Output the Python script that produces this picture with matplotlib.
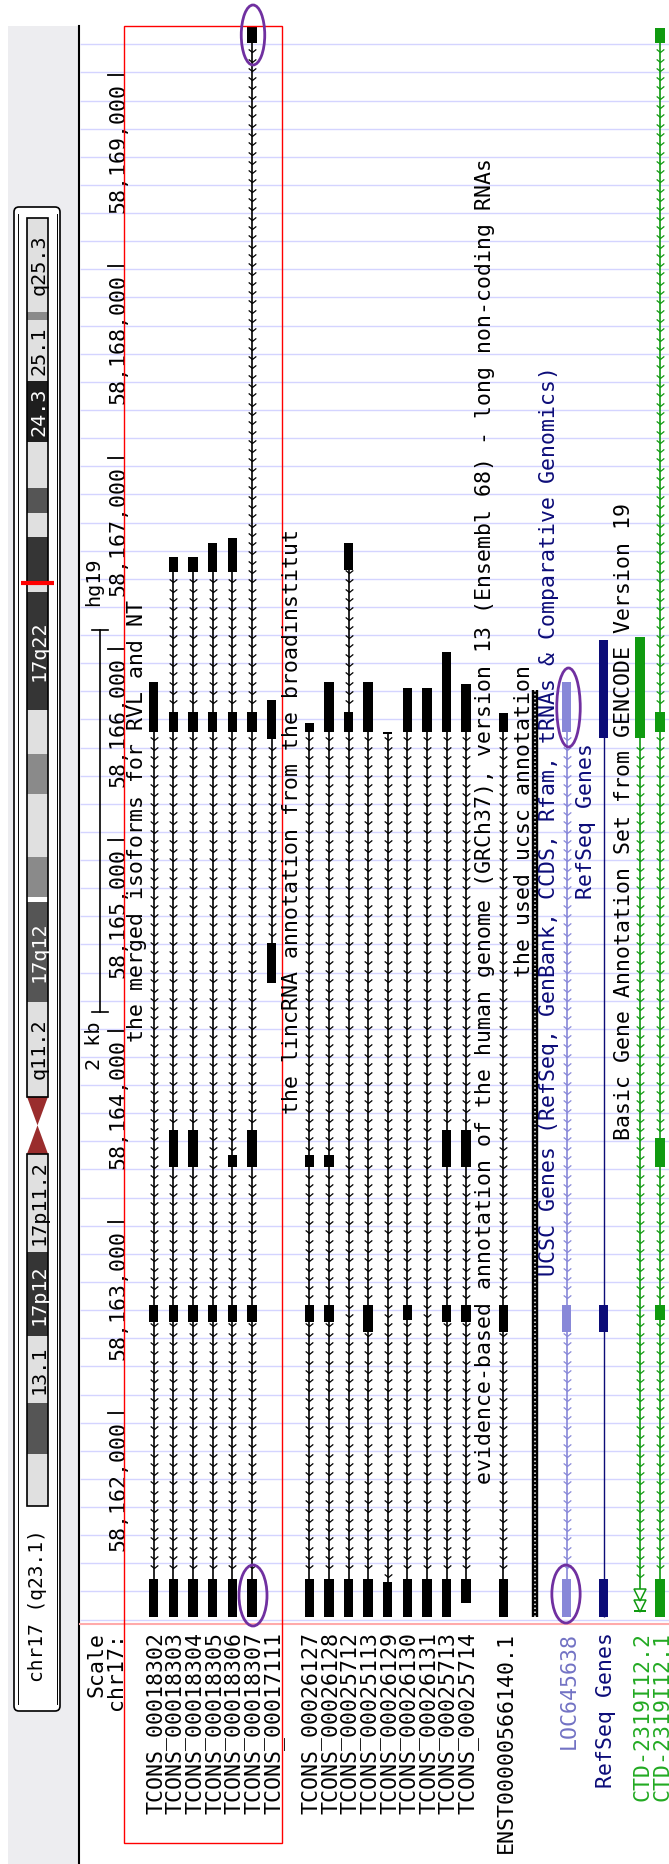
import matplotlib
matplotlib.use("Agg")
import matplotlib.pyplot as plt
import numpy as np
from matplotlib.patches import Rectangle, Ellipse, FancyBboxPatch, Polygon
from matplotlib.transforms import ScaledTranslation

W, H = 669, 1864

# ---- genomic window, chr17 (hg19) ----
view_start = 58160896
view_end = 58169258
ruler_ticks = [58162000, 58163000, 58164000, 58165000, 58166000, 58167000, 58168000, 58169000]
ruler_labels = ["58,162,000", "58,163,000", "58,164,000", "58,165,000",
                "58,166,000", "58,167,000", "58,168,000", "58,169,000"]
scale_bar = (58164100, 58166100)

# track 1: the merged isoforms for RVL and NT
merged_names = ["TCONS_00018302", "TCONS_00018303", "TCONS_00018304", "TCONS_00018305",
                "TCONS_00018306", "TCONS_00018307", "TCONS_00017111"]
merged_exons = [
    [(58160932, 58161131), (58162476, 58162565), (58165564, 58165825)],
    [(58160932, 58161131), (58162476, 58162565), (58163287, 58163481), (58165564, 58165668), (58166401, 58166479)],
    [(58160932, 58161131), (58162476, 58162565), (58163287, 58163481), (58165564, 58165668), (58166401, 58166479)],
    [(58160932, 58161131), (58162476, 58162565), (58165564, 58165668), (58166401, 58166553)],
    [(58160932, 58161131), (58162476, 58162565), (58163287, 58163350), (58165564, 58165668), (58166401, 58166579)],
    [(58160932, 58161131), (58162476, 58162565), (58163287, 58163481), (58165564, 58165668), (58169169, 58169253)],
    [(58164250, 58164460), (58165527, 58165731)],
]

# track 2: lincRNA annotation from the broad institute
linc_names = ["TCONS_00026127", "TCONS_00026128", "TCONS_00025712", "TCONS_00025113",
              "TCONS_00026129", "TCONS_00026130", "TCONS_00026131", "TCONS_00025713", "TCONS_00025714"]
linc_exons = [
    [(58160932, 58161131), (58162476, 58162565), (58163287, 58163350), (58165564, 58165611)],
    [(58160932, 58161131), (58162476, 58162565), (58163287, 58163350), (58165564, 58165825)],
    [(58160932, 58161131), (58165564, 58165668), (58166411, 58166553)],
    [(58160932, 58161131), (58162424, 58162565), (58165564, 58165825)],
    [(58160932, 58161116), (58165554, 58165560)],
    [(58160932, 58161131), (58162487, 58162565), (58165564, 58165794)],
    [(58160932, 58161131), (58165564, 58165794)],
    [(58160932, 58161131), (58162476, 58162565), (58163287, 58163481), (58165564, 58165982)],
    [(58161006, 58161131), (58162476, 58162565), (58163287, 58163481), (58165564, 58165815)],
]

# track 3: Ensembl 68 lncRNA
ens_names = ["ENST00000566140.1"]
ens_exons = [[(58160932, 58161131), (58162424, 58162565), (58165564, 58165663)]]

# track 4: the used ucsc annotation (dense)
dense_span = (58160932, 58165783)

# track 5: UCSC genes
ucsc_names = ["LOC645638"]
ucsc_exons = [[(58160932, 58161131), (58162424, 58162565), (58165564, 58165825)]]

# track 6: RefSeq genes
refseq_names = ["RefSeq Genes"]
refseq_exons = [[(58160932, 58161131), (58162424, 58162565), (58165532, 58166045)]]

# track 7: GENCODE v19 basic
gencode_names = ["CTD-2319I12.2", "CTD-2319I12.1"]
gencode_exons = [
    [(58165532, 58166061)],
    [(58160932, 58161131), (58162487, 58162565), (58163287, 58163439), (58165564, 58165668), (58169169, 58169248)],
]
gencode_thin_end = (58160959, 58161084)

track_titles = [
    "the merged isoforms for RVL and NT",
    "the lincRNA annotation from the broadinstitut",
    "evidence-based annotation of the human genome (GRCh37), version 13 (Ensembl 68) - long non-coding RNAs",
    "the used ucsc annotation",
    "UCSC Genes (RefSeq, GenBank, CCDS, Rfam, tRNAs & Comparative Genomics)",
    "RefSeq Genes",
    "Basic Gene Annotation Set from GENCODE Version 19",
]

# ---- chr17 ideogram (Mb) ----
band_start = [0, 3.3, 6.5, 10.7, 16.0, 22.2, 24.0, 25.8, 31.8, 38.1, 38.4, 40.9, 44.9, 47.4,
              50.2, 57.6, 58.3, 61.1, 62.6, 64.2, 67.1, 70.9, 74.8, 75.3]
band_end = [3.3, 6.5, 10.7, 16.0, 22.2, 24.0, 25.8, 31.8, 38.1, 38.4, 40.9, 44.9, 47.4, 50.2,
            57.6, 58.3, 61.1, 62.6, 64.2, 67.1, 70.9, 74.8, 75.3, 81.2]
band_stain = ["gneg", "gpos50", "gneg", "gpos75", "gneg", "acen", "acen", "gneg", "gpos50", "gwhite",
              "gpos25", "gneg", "gpos25", "gneg", "gpos75", "gneg", "gpos75", "gneg", "gpos50", "gneg",
              "gpos100", "gneg", "gpos25", "gneg"]
band_label = ["", "", "13.1", "17p12", "17p11.2", "", "", "q11.2", "17q12", "", "", "", "", "",
              "17q22", "", "", "", "", "", "24.3", "25.1", "", "q25.3"]
chrom_len = 81.2

stain_color = {"gneg": "#e0e0e0", "gwhite": "#ffffff", "gpos25": "#8a8a8a", "gpos50": "#555555",
               "gpos75": "#353535", "gpos100": "#1e1e1e"}
stain_text = {"gneg": "black", "gwhite": "black", "gpos25": "black", "gpos50": "white",
              "gpos75": "white", "gpos100": "white"}

FONT = ["DejaVu Sans Mono"]
FS = 15.5
NAVY = "#0c0c78"
LOCBLUE = "#8888d8"
GREEN = "#109a10"

fig = plt.figure(figsize=(W / 100, H / 100), dpi=100)

# background layer (pixel coords)
bg = fig.add_axes([0, 0, 1, 1], zorder=0)
bg.set_xlim(0, W)
bg.set_ylim(H, 0)
bg.axis("off")
bg.add_patch(Rectangle((8, 26), 71, H - 26, fc="#ededf0", ec="none"))
bg.plot([79, 79], [26, H], color="black", lw=1.5)
bg.add_patch(FancyBboxPatch((16, 209), 42, 1500, boxstyle="round,pad=2,rounding_size=5",
                            fc="white", ec="black", lw=1.2))
bg.plot([17.5, 17.5], [214, 1704], color="black", lw=0.7)
bg.plot([56.5, 56.5], [214, 1704], color="black", lw=0.7)
bg.hlines(np.arange(44.3, 1624, 28.13), 80, W, color="#d4d4ff", lw=1.0)
bg.plot([80, W], [1624, 1624], color="#ffaaaa", lw=1.5)

# track layer (genomic coords)
ax = fig.add_axes([0, 1 - 1624 / H, 1, (1624 - 26) / H], zorder=1)
ax.set_xlim(0, W)
ax.set_ylim(view_start, view_end)
ax.axis("off")
ax.patch.set_alpha(0)

bp_px = (view_end - view_start) / (1624 - 26)
arrow_grid = np.arange(view_start, view_end, 9.3 * bp_px)
CHEV = [(-1, 0.8), (0, 0), (1, 0.8)]
EXON_W = 9.3


def draw_track(x, exons, color, arrows=True, lw=1.2, thin_end=None):
    lo = min(s for s, e in exons)
    hi = max(e for s, e in exons)
    if thin_end is not None:
        lo = min(lo, thin_end[0])
    ax.plot([x, x], [lo, hi], color=color, lw=lw, solid_capstyle="butt", zorder=2)
    if arrows:
        pad = 3 * bp_px
        blocked = list(exons) + ([thin_end] if thin_end is not None else [])
        keep = [g for g in arrow_grid if lo + pad < g < hi - pad
                and not any(s - pad < g < e + pad for s, e in blocked)]
        ax.plot([x] * len(keep), keep, ls="none", marker=CHEV, ms=5.5, mfc="none",
                mec=color, mew=0.9, zorder=2)
    for s, e in exons:
        ax.bar(x, max(e - s, 2 * bp_px), bottom=s, width=EXON_W, color=color, lw=0, zorder=3)
    if thin_end is not None:
        s, e = thin_end
        ax.bar(x, 2 * bp_px, bottom=s, width=EXON_W + 2, color=color, lw=0, zorder=3)
        ax.plot([x, x], s + (e - s) * np.array([0.25, 0.72]), ls="none", marker="v", ms=8,
                mfc="white", mec=color, mew=1.1, zorder=3)


merged_x = [153.6 + 19.7 * i for i in range(len(merged_names))]
linc_x = [309.3 + 19.6 * i for i in range(len(linc_names))]
ens_x = [503.4]
dense_x = 534.5
ucsc_x = [566.6]
refseq_x = [603.7]
gencode_x = [640.0, 660.0]
title_x = [137, 292, 485.5, 524, 549, 585.5, 624]
title_col = ["black", "black", "black", "black", NAVY, NAVY, "black"]

for x, ex in zip(merged_x, merged_exons):
    draw_track(x, ex, "black")
for x, ex in zip(linc_x, linc_exons):
    draw_track(x, ex, "black")
for x, ex in zip(ens_x, ens_exons):
    draw_track(x, ex, "black")
ax.plot([dense_x, dense_x], dense_span, color="black", lw=4.6, solid_capstyle="butt", zorder=2)
ax.plot([dense_x, dense_x], dense_span, color="white", lw=1.1, dashes=(1.0, 1.6), zorder=2)
for x, ex in zip(ucsc_x, ucsc_exons):
    draw_track(x, ex, LOCBLUE)
for x, ex in zip(refseq_x, refseq_exons):
    draw_track(x, ex, NAVY, arrows=False, lw=1.0)
draw_track(gencode_x[0], gencode_exons[0], GREEN, thin_end=gencode_thin_end)
draw_track(gencode_x[1], gencode_exons[1], GREEN)

# ruler
down = lambda px: ax.transData + ScaledTranslation(0, -px / 100, fig.dpi_scale_trans)
up = lambda px: ax.transData + ScaledTranslation(0, px / 100, fig.dpi_scale_trans)
for t, lab in zip(ruler_ticks, ruler_labels):
    ax.plot([108, 124], [t, t], color="black", lw=1.3, zorder=2)
    ax.text(118, t, lab, rotation=90, rotation_mode="anchor", ha="right", va="center",
            family=FONT, fontsize=FS, transform=down(8))

# scale bar
ax.plot([100, 100], scale_bar, color="black", lw=1.2)
for b in scale_bar:
    ax.plot([92, 108], [b, b], color="black", lw=1.2)
ax.text(95, scale_bar[0], "2 kb", rotation=90, rotation_mode="anchor", ha="right", va="center",
        family=FONT, fontsize=14.5, transform=down(10))
ax.text(94, scale_bar[1], "hg19", rotation=90, rotation_mode="anchor", ha="left", va="center",
        family=FONT, fontsize=14.5, transform=up(24))

# ideogram
ideo = fig.add_axes([27 / W, 1 - 1506 / H, 21 / W, (1506 - 218) / H], zorder=2)
ideo.set_xlim(0, 1)
ideo.set_ylim(0, chrom_len)
ideo.axis("off")
cen = [i for i, st in enumerate(band_stain) if st == "acen"]
for s, e, st, lab in zip(band_start, band_end, band_stain, band_label):
    if st == "acen":
        continue
    ideo.bar(0.5, e - s, bottom=s, width=1, color=stain_color[st], lw=0)
    if lab:
        ideo.text(0.58, (s + e) / 2, lab, rotation=90, ha="center", va="center",
                  family=FONT, fontsize=14.5, color=stain_text[st])
c0, c1, c2 = band_start[cen[0]], band_end[cen[0]], band_end[cen[1]]
ideo.add_patch(Polygon([(0, c0), (1, c0), (0.5, c1)], fc="#9a2d2d", ec="none"))
ideo.add_patch(Polygon([(0.5, c1), (1, c2), (0, c2)], fc="#9a2d2d", ec="none"))
ideo.add_patch(Rectangle((0, 0), 1, c0, fc="none", ec="black", lw=1.2, clip_on=False))
ideo.add_patch(Rectangle((0, c2), 1, chrom_len - c2, fc="none", ec="black", lw=1.2, clip_on=False))
mid = (view_start + view_end) / 2 / 1e6
ideo.plot([-0.3, 1.3], [mid, mid], color="red", lw=3, solid_capstyle="butt", clip_on=False)

# foreground (pixel coords): labels, annotations
fg = fig.add_axes([0, 0, 1, 1], zorder=3)
fg.set_xlim(0, W)
fg.set_ylim(H, 0)
fg.axis("off")
fg.patch.set_alpha(0)

fg.text(38, 1606, "chr17 (q23.1)", rotation=90, ha="center", va="center",
        family=FONT, fontsize=14)

for x, t, c in zip(title_x, track_titles, title_col):
    fg.text(x, 821, t, rotation=90, ha="center", va="center", family=FONT, fontsize=FS, color=c)

left_labels = [("Scale", 94, "black"), ("chr17:", 114, "black")]
left_labels += [(n, x, "black") for n, x in zip(merged_names, merged_x)]
left_labels += [(n, x, "black") for n, x in zip(linc_names, linc_x)]
left_labels += [(n, x, "black") for n, x in zip(ens_names, ens_x)]
left_labels += [(n, x, "#7272c4") for n, x in zip(ucsc_names, ucsc_x)]
left_labels += [(n, x, NAVY) for n, x in zip(refseq_names, refseq_x)]
left_labels += [(n, x, "#22aa22") for n, x in zip(gencode_names, gencode_x)]
for n, x, c in left_labels:
    fg.text(x + 2, 1632, n, rotation=90, rotation_mode="anchor", ha="right", va="center",
            family=FONT, fontsize=FS, color=c)

fg.add_patch(Rectangle((123.7, 26), 157.9, 1817, fc="none", ec="red", lw=1.0))
for cx, cy, w, h in [(253, 35, 23.5, 60), (253, 1595.5, 28, 61),
                     (566, 1594, 28.3, 58), (568.5, 707.5, 23.5, 79)]:
    fg.add_patch(Ellipse((cx, cy), w, h, fc="none", ec="#7030a0", lw=2.0))

fig.savefig("out.png", dpi=100)
